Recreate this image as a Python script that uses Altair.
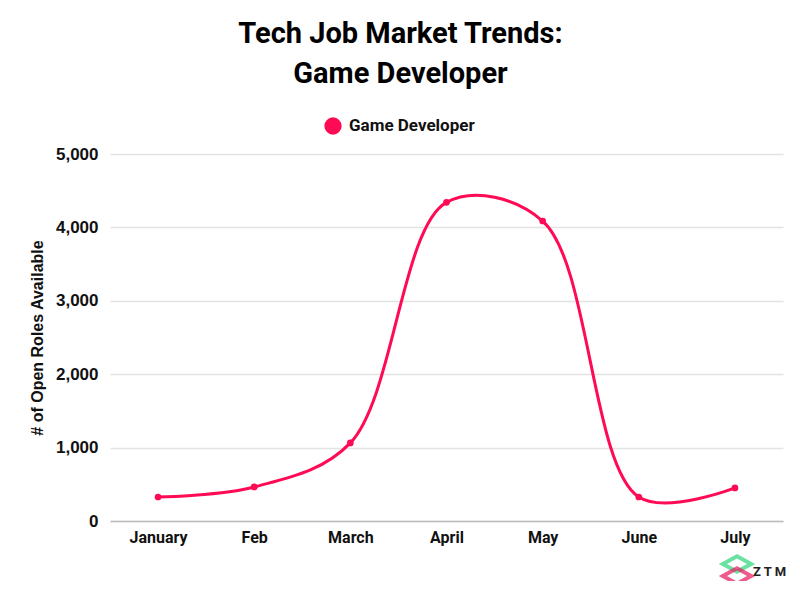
import altair as alt
import pandas as pd

months = ["January", "Feb", "March", "April", "May", "June", "July"]
roles = [327, 464, 1064, 4341, 4087, 327, 450]
series_name = "Game Developer"

df = pd.DataFrame({"Month": months, "Roles": roles, "Series": [series_name] * len(months)})

PINK = "#FF0A55"

x_enc = alt.X("Month:N", sort=months, title=None,
              scale=alt.Scale(type="point", padding=0.5),
              axis=alt.Axis(labelAngle=0, ticks=False, grid=False, domain=True,
                            domainColor="#BDBDBD", domainWidth=1.5,
                            labelFont="Roboto", labelFontWeight="bold", labelFontSize=16,
                            labelColor="#111111", labelPadding=8))
y_enc = alt.Y("Roles:Q", title="# of Open Roles Available",
              scale=alt.Scale(domain=[0, 5000], nice=False),
              axis=alt.Axis(values=[0, 1000, 2000, 3000, 4000, 5000], format=",.0f",
                            ticks=False, domain=False, grid=True,
                            gridColor="#E3E3E3", gridWidth=1.5,
                            labelFont="Liberation Sans", labelFontWeight="bold", labelFontSize=17,
                            labelColor="#111111", labelPadding=12,
                            titleFont="Liberation Sans", titleFontWeight="bold", titleFontSize=16,
                            titleColor="#111111", titlePadding=10))

color_enc = alt.Color("Series:N", scale=alt.Scale(domain=[series_name], range=[PINK]),
                      legend=alt.Legend(title=None, orient="none", legendX=214, legendY=-37,
                                        symbolType="circle", symbolSize=250,
                                        labelFont="Roboto", labelFontWeight="bold",
                                        labelFontSize=17, labelColor="#111111",
                                        labelOffset=7))

line = alt.Chart(df).mark_line(interpolate="catmull-rom", strokeWidth=3).encode(
    x=x_enc, y=y_enc, color=color_enc)
pts = alt.Chart(df).mark_circle(size=45, opacity=1).encode(
    x=x_enc, y=y_enc, color=alt.Color("Series:N", legend=None,
                                      scale=alt.Scale(domain=[series_name], range=[PINK])))

one = alt.Data(values=[{"k": 1}])
logo_green = alt.Chart(one).mark_point(
    shape="M-1,0L0,-0.55L1,0L0,0.55Z", filled=False, stroke="#2BD67B", strokeWidth=4, size=800
).encode(x=alt.value(627), y=alt.value(410))
logo_pink = alt.Chart(one).mark_point(
    shape="M-1,0L0,-0.55L1,0L0,0.55Z", filled=False, stroke="#E8175D", strokeWidth=4, size=800
).encode(x=alt.value(627), y=alt.value(422))
logo_text = alt.Chart(one).mark_text(
    text="Z T M", font="Roboto", fontWeight="bold", fontSize=13, color="#222222", align="left"
).encode(x=alt.value(643), y=alt.value(418))

chart = alt.layer(line, pts, logo_green, logo_pink, logo_text).properties(
    width=673, height=367,
    title=alt.Title(["Tech Job Market Trends:", "Game Developer"], font="Roboto",
                    fontWeight="bold", fontSize=29, lineHeight=40, color="#000000",
                    anchor="middle", dx=-46, offset=28),
    autosize=alt.AutoSizeParams(type="none"),
    padding={"left": 102, "top": 146, "right": 9, "bottom": 60},
).configure(background="white").configure_view(stroke=None)

chart.save("out.html", embed_options={"renderer": "svg", "actions": False})
